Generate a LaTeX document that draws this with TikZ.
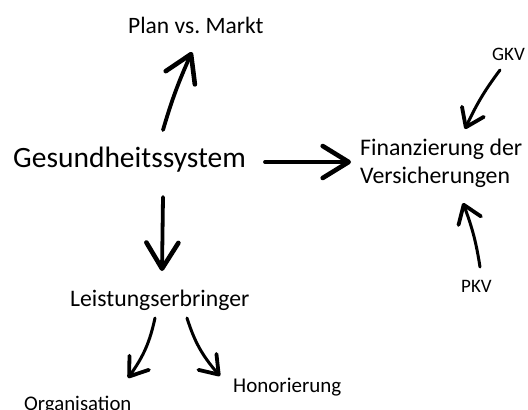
\documentclass[tikz,border=0pt]{standalone}
\usepackage{fontspec}
\setmainfont{Carlito}
\usetikzlibrary{arrows.meta,bending}
\begin{document}
\frenchspacing
\begin{tikzpicture}[x=1pt,y=-1pt,
  lbl/.style={inner sep=0pt,anchor=base west,text=black},
  bigarrow/.style={line width=3.8pt,line cap=round,line join=round,
    -{Straight Barb[length=26pt,width=32pt,round,line width=4.6pt]}},
  smallarrow/.style={line width=3pt,line cap=round,line join=round,
    -{Straight Barb[length=17pt,width=24pt,round,line width=3.8pt]}}]
\useasboundingbox (0,0) rectangle (528,410);
\fill[white] (0,0) rectangle (528,410);
% labels
\node[lbl,font=\fontsize{23.5}{28}\selectfont] (plan) at (128,33) {Plan vs. Markt};
\node[lbl,font=\fontsize{29.5}{35}\selectfont] (gs) at (13,167) {Gesundheitssystem};
\node[lbl,font=\fontsize{23.8}{28}\selectfont] (fin) at (360,155) {Finanzierung der};
\node[lbl,font=\fontsize{23.8}{28}\selectfont] (vers) at (360,183) {Versicherungen};
\node[lbl,font=\fontsize{19}{23}\selectfont] (gkv) at (492,60) {GKV};
\node[lbl,font=\fontsize{19}{23}\selectfont] (pkv) at (461,292) {PKV};
\node[lbl,font=\fontsize{23.7}{28}\selectfont] (lb) at (70,306) {Leistungserbringer};
\node[lbl,font=\fontsize{21}{25}\selectfont] (hon) at (233,392) {Honorierung};
\node[lbl,font=\fontsize{20.8}{25}\selectfont] (org) at (24,410) {Organisation};
% arrow end points
\coordinate (upA) at (163,130);  \coordinate (upB) at (192,52);
\coordinate (rA) at (265,162);   \coordinate (rB) at (351,162);
\coordinate (dA) at (163,197);   \coordinate (dB) at (162,271);
\coordinate (gA) at (500,70);    \coordinate (gB) at (465,129);
\coordinate (pA) at (480,267);   \coordinate (pB) at (463,203);
\coordinate (oA) at (155,318);   \coordinate (oB) at (128,378);
\coordinate (hA) at (187,318);   \coordinate (hB) at (220,376);
% arrows
\draw[bigarrow] (upA) to[bend left=4] (upB);
\draw[bigarrow] (rA) -- (rB);
\draw[bigarrow] (dA) -- (dB);
\draw[smallarrow] (gA) to[bend right=6] (gB);
\draw[smallarrow] (pA) to[bend right=6] (pB);
\draw[smallarrow] (oA) to[bend left=12] (oB);
\draw[smallarrow] (hA) to[bend right=12] (hB);
\end{tikzpicture}
\end{document}
